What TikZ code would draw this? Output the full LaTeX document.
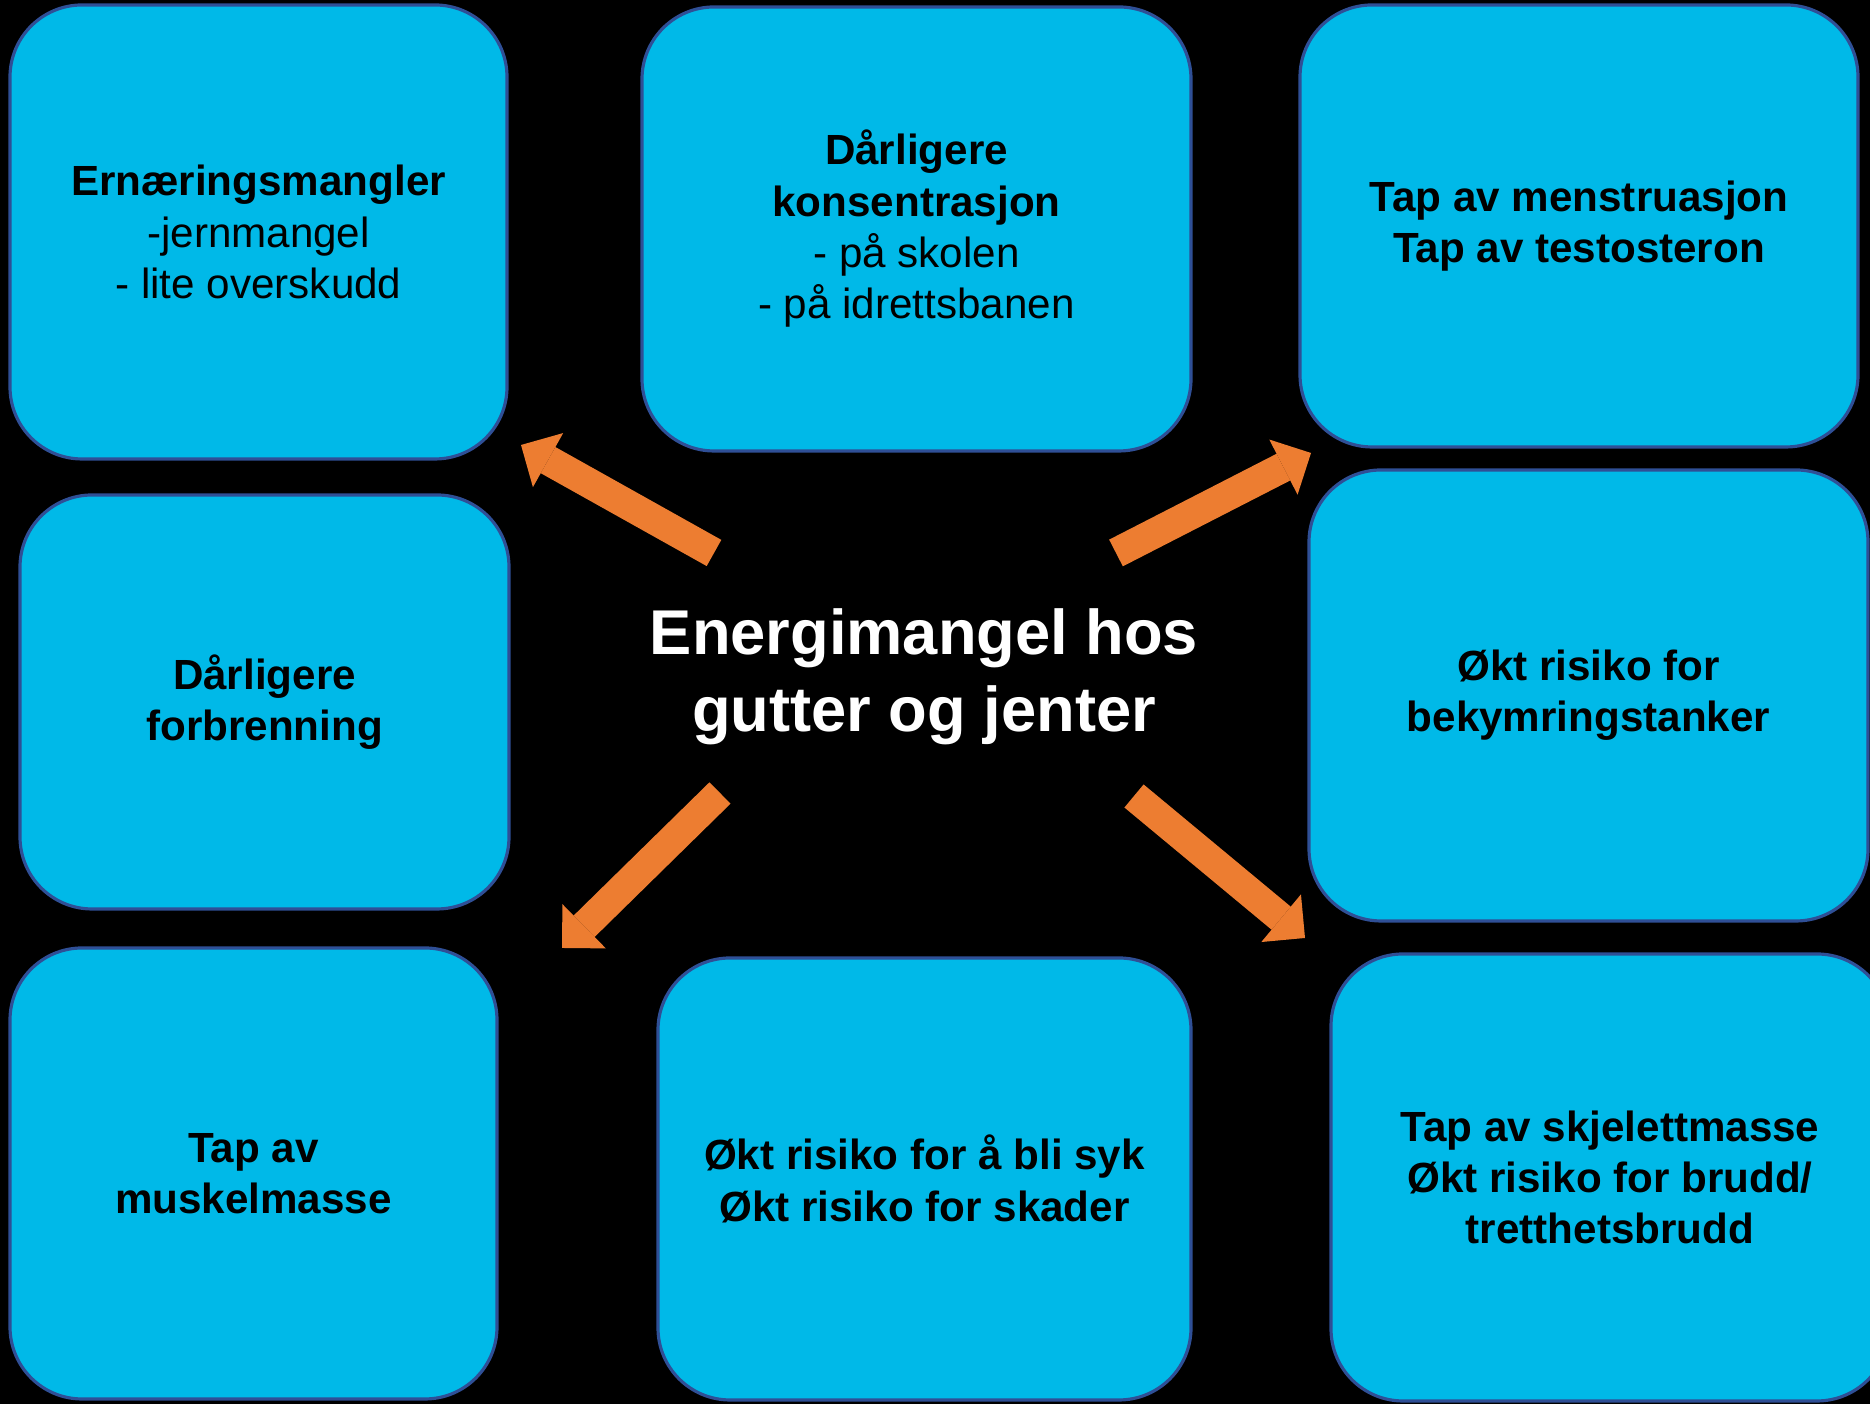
\documentclass[tikz,border=0pt]{standalone}
\usepackage{fontspec}
\setmainfont{Liberation Sans}
\usetikzlibrary{arrows.meta}
\definecolor{boksblaa}{HTML}{00B9E8}
\definecolor{kantblaa}{HTML}{2F4F96}
\definecolor{pilorange}{HTML}{ED7D31}

\begin{document}
\begin{tikzpicture}[
	boks/.style={draw=kantblaa, line width=0.9pt, fill=boksblaa, rounded corners=0.72cm, align=center, inner sep=0pt, font=\fontsize{12}{14.6}\selectfont},
	pil/.style={draw=pilorange, line width=0.3cm, -{Triangle[length=0.31cm, width=0.62cm, line width=0pt]}},
	]
	\fill[black] (0, 0) rectangle (18.7, 14.04);
	\useasboundingbox (0, 0) rectangle (18.7, 14.04);

	\node[boks, minimum width=4.97cm, minimum height=4.54cm] (ernaering) at (2.585, 11.72) {\textbf{Ernæringsmangler}\\-jernmangel\\- lite overskudd};
	\node[boks, minimum width=5.49cm, minimum height=4.44cm] (konsentrasjon) at (9.165, 11.75) {\textbf{Dårligere}\\\textbf{konsentrasjon}\\- på skolen\\- på idrettsbanen};
	\node[boks, minimum width=5.58cm, minimum height=4.42cm, font=\fontsize{12}{14.6}\selectfont\bfseries] (hormon) at (15.79, 11.78) {Tap av menstruasjon\\Tap av testosteron};
	\node[boks, minimum width=4.89cm, minimum height=4.14cm, font=\fontsize{12}{14.6}\selectfont\bfseries] (forbrenning) at (2.645, 7.02) {Dårligere\\forbrenning};
	\node[boks, minimum width=5.59cm, minimum height=4.51cm, font=\fontsize{12}{14.6}\selectfont\bfseries] (tanker) at (15.885, 7.085) {Økt risiko for\\bekymringstanker};
	\node[boks, minimum width=4.87cm, minimum height=4.51cm, font=\fontsize{12}{14.6}\selectfont\bfseries] (muskel) at (2.535, 2.305) {Tap av\\muskelmasse};
	\node[boks, minimum width=5.33cm, minimum height=4.42cm, font=\fontsize{12}{14.6}\selectfont\bfseries] (syk) at (9.245, 2.25) {Økt risiko for å bli syk\\Økt risiko for skader};
	\node[boks, minimum width=5.58cm, minimum height=4.47cm, font=\fontsize{12}{14.6}\selectfont\bfseries] (skjelett) at (16.10, 2.265) {Tap av skjelettmasse\\Økt risiko for brudd/\\tretthetsbrudd};

	\node[white, align=center, font=\fontsize{18}{22}\selectfont\bfseries] (energi) at (9.24, 7.27) {Energimangel hos\\gutter og jenter};

	\coordinate (ut1) at (7.14, 8.51);
	\coordinate (inn1) at (5.21, 9.59);
	\coordinate (ut2) at (11.16, 8.51);
	\coordinate (inn2) at (13.11, 9.51);
	\coordinate (ut3) at (7.20, 6.11);
	\coordinate (inn3) at (5.62, 4.56);
	\coordinate (ut4) at (11.34, 6.08);
	\coordinate (inn4) at (13.05, 4.66);
	\draw[pil] (ut1) -- (inn1);
	\draw[pil] (ut2) -- (inn2);
	\draw[pil] (ut3) -- (inn3);
	\draw[pil] (ut4) -- (inn4);
\end{tikzpicture}
\end{document}
